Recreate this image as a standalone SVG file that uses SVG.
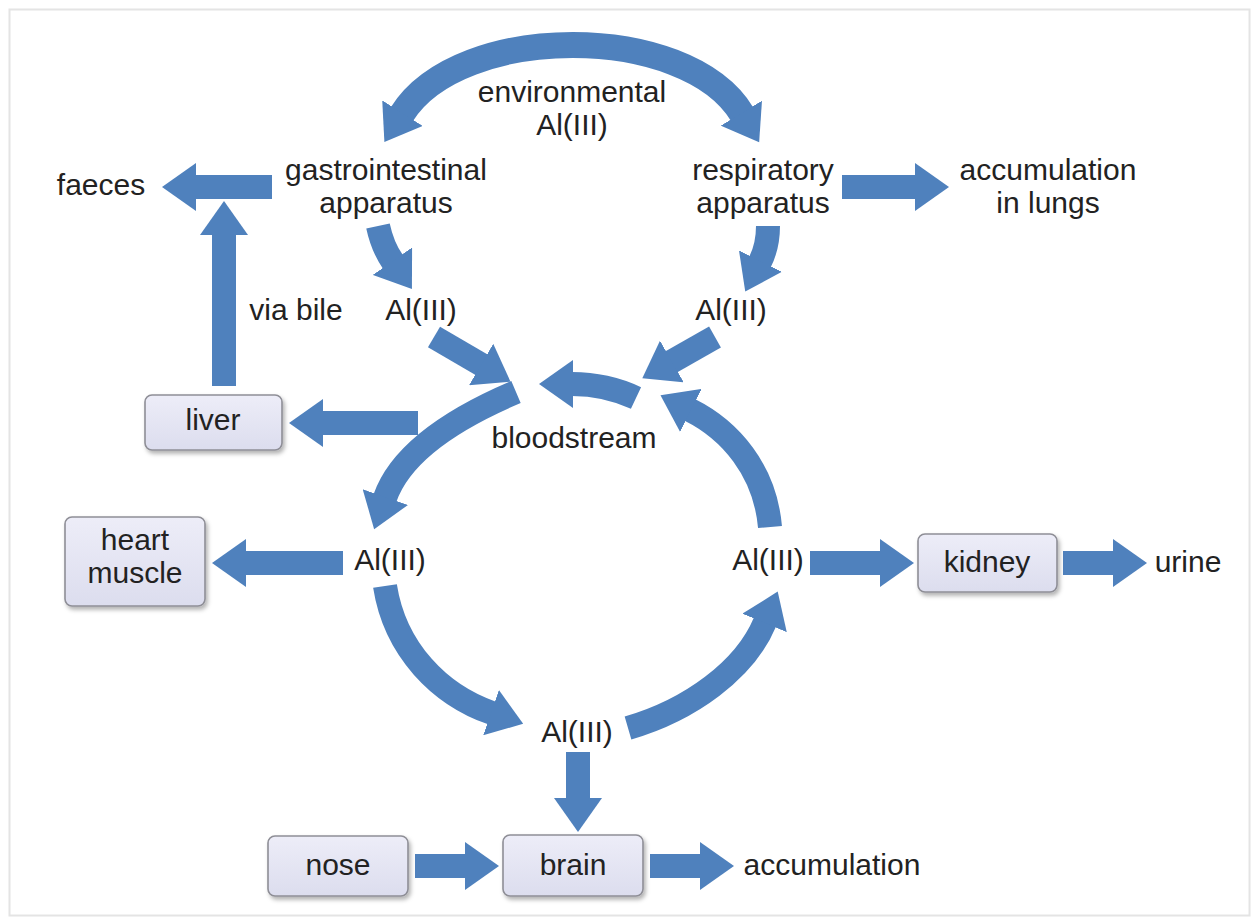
<svg xmlns="http://www.w3.org/2000/svg" width="1253" height="920" viewBox="0 0 1253 920">
<defs>
<style>
.t{font-family:"Liberation Sans",Arial,sans-serif;font-size:30px;fill:#222;text-anchor:middle}
.box{fill:url(#bg);stroke:#8e8e96;stroke-width:1.6;filter:url(#sh)}
.sh{fill:none;stroke:#4f81bd;stroke-width:24;stroke-linecap:butt}
.hd{marker-end:url(#ah)}
</style>
<linearGradient id="bg" x1="0" y1="0" x2="0" y2="1">
<stop offset="0" stop-color="#ededf8"/>
<stop offset="1" stop-color="#dcddee"/>
</linearGradient>
<filter id="sh" x="-10%" y="-10%" width="130%" height="140%">
<feDropShadow dx="2" dy="3" stdDeviation="2" flood-color="#000" flood-opacity="0.3"/>
</filter>
<marker id="ah" markerUnits="userSpaceOnUse" markerWidth="36" markerHeight="48" refX="1" refY="24" orient="auto-start-reverse" viewBox="0 0 36 48">
<path d="M0,0 L34,24 L0,48 z" fill="#4f81bd"/>
</marker>
</defs>
<rect x="0" y="0" width="1253" height="920" fill="#fff"/>
<rect x="9.5" y="9.5" width="1240" height="906" fill="none" stroke="#e4e4e4" stroke-width="2"/>

<g id="connectors">
<path class="sh" d="M402,114 C460,22 686,22 742,114" style="stroke-width:26" marker-start="url(#ah)" marker-end="url(#ah)"/>
<path class="sh hd" d="M378,226 C381,240 386,252 393,262"/>
<path class="sh hd" d="M768,226 C768,240 765,252 760,262"/>
<path class="sh hd" d="M434,337 L482,365"/>
<path class="sh hd" d="M715,337 L671,362"/>
<path class="sh hd" d="M636,398 Q606,384 572,384"/>
<path class="sh hd" d="M516,392 C450,420 400,455 385,498"/>
<path class="sh hd" d="M770,527 C765,470 730,430 690,410"/>
<path class="sh hd" d="M385,586 C395,650 440,695 492,713"/>
<path class="sh hd" d="M628,728 C690,710 745,670 765,622"/>
<path class="sh hd" d="M272,187 L195,187"/>
<path class="sh hd" d="M224,386 L224,234"/>
<path class="sh hd" d="M418,423 L322,423"/>
<path class="sh hd" d="M343,563 L245,563"/>
<path class="sh hd" d="M810,563 L881,563"/>
<path class="sh hd" d="M1063,563 L1114,563"/>
<path class="sh hd" d="M578,752 L578,799"/>
<path class="sh hd" d="M415,866 L466,866"/>
<path class="sh hd" d="M650,866 L701,866"/>
<path class="sh hd" d="M842,187 L916,187"/>
</g>

<g id="environmental"><text class="t" x="572" y="102">environmental</text><text class="t" x="572" y="135">Al(III)</text></g>
<g id="gastrointestinal"><text class="t" x="386" y="180">gastrointestinal</text><text class="t" x="386" y="213">apparatus</text></g>
<g id="respiratory"><text class="t" x="763" y="180">respiratory</text><text class="t" x="763" y="213">apparatus</text></g>
<g id="lungs"><text class="t" x="1048" y="180">accumulation</text><text class="t" x="1048" y="213">in lungs</text></g>
<g id="faeces"><text class="t" x="101" y="195">faeces</text></g>
<g id="viabile"><text class="t" x="296" y="320">via bile</text></g>
<g id="al-gi"><text class="t" x="421" y="320">Al(III)</text></g>
<g id="al-resp"><text class="t" x="731" y="320">Al(III)</text></g>
<g id="bloodstream"><text class="t" x="574" y="448">bloodstream</text></g>
<g id="liver"><rect class="box" x="145" y="395" width="137" height="55" rx="7"/><text class="t" x="213" y="430">liver</text></g>
<g id="heart"><rect class="box" x="65" y="517" width="140" height="89" rx="7"/><text class="t" x="135" y="550">heart</text><text class="t" x="135" y="583">muscle</text></g>
<g id="al-left"><text class="t" x="390" y="570">Al(III)</text></g>
<g id="al-right"><text class="t" x="768" y="570">Al(III)</text></g>
<g id="kidney"><rect class="box" x="918" y="534" width="139" height="58" rx="7"/><text class="t" x="987" y="572">kidney</text></g>
<g id="urine"><text class="t" x="1188" y="572">urine</text></g>
<g id="al-bottom"><text class="t" x="577" y="742">Al(III)</text></g>
<g id="nose"><rect class="box" x="268" y="836" width="140" height="60" rx="7"/><text class="t" x="338" y="875">nose</text></g>
<g id="brain"><rect class="box" x="503" y="835" width="140" height="61" rx="7"/><text class="t" x="573" y="875">brain</text></g>
<g id="accumulation"><text class="t" x="832" y="875">accumulation</text></g>
</svg>
